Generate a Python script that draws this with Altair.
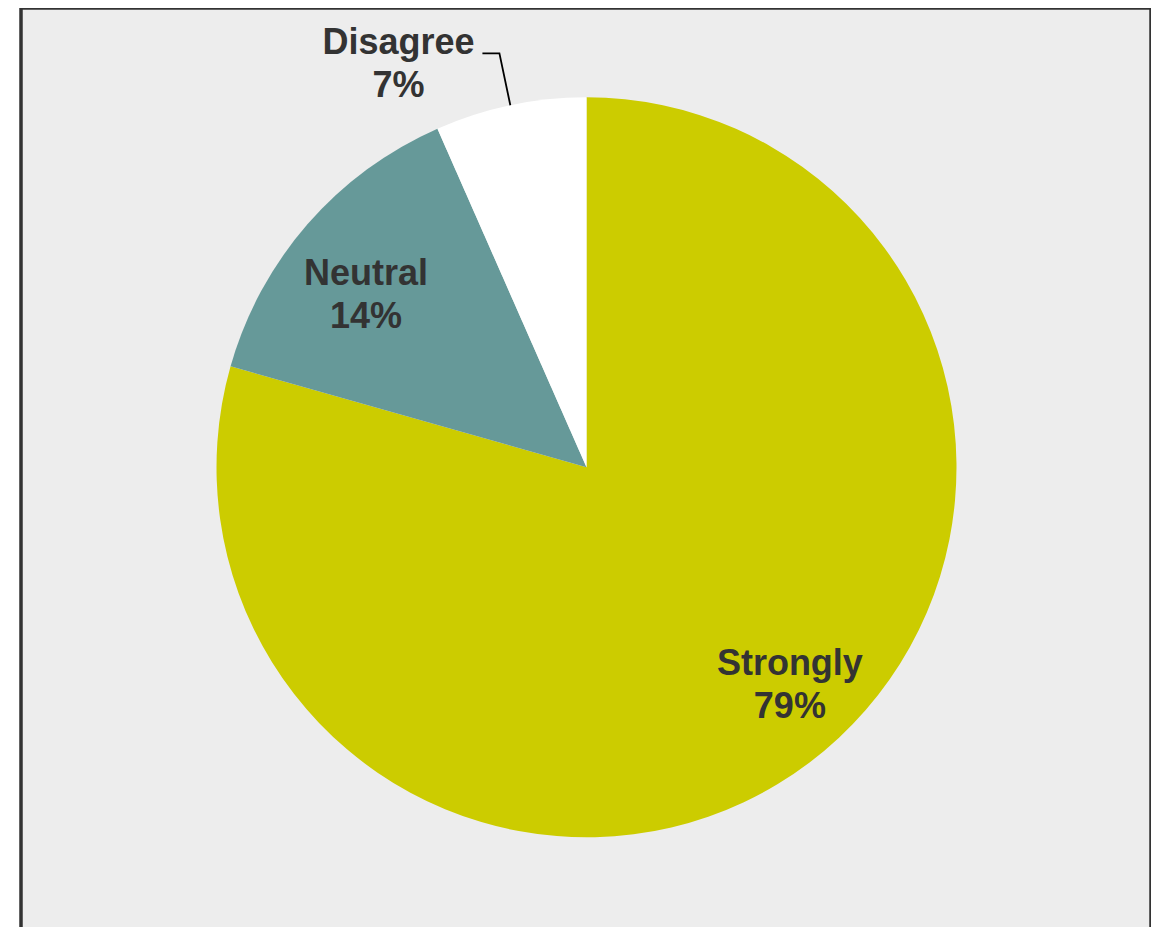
import altair as alt
import numpy as np
import pandas as pd

# Data
categories = ["Strongly", "Neutral", "Disagree"]
values = [79.4, 14.0, 6.6]
labels = ["Strongly\n79%", "Neutral\n14%", "Disagree\n7%"]
colors = ["#CCCC00", "#669999", "#FFFFFF"]

df = pd.DataFrame({
    "category": categories,
    "value": values,
    "label": labels,
    "order": list(range(len(categories))),
})

# Layout (pixel styling)
W, H = 1130, 960
CX, CY, R = 565.5, 459.3, 370
FONT = "Liberation Sans"
TXT = "#333333"

base = alt.Chart(df).encode(
    theta=alt.Theta("value:Q", stack=True),
    order=alt.Order("order:Q"),
    x=alt.value(CX),
    y=alt.value(CY),
)

pie = base.mark_arc(outerRadius=R).encode(
    color=alt.Color("category:N",
                    scale=alt.Scale(domain=categories, range=colors),
                    legend=None)
)


def label_layer(cat, radius, dx, dy):
    return base.mark_text(
        radius=radius, dx=dx, dy=dy, fontSize=36, fontWeight="bold",
        font=FONT, color=TXT, lineBreak="\n", lineHeight=43,
        align="center", baseline="middle",
    ).encode(
        text=alt.condition(f"datum.category == '{cat}'", "label:N", alt.value(""))
    )


t_strong = label_layer("Strongly", 300, 22.5, -42.5)
t_neutral = label_layer("Neutral", 280, -9.3, -9.5)
t_dis = label_layer("Disagree", 413, -103, -20.5)

# Leader line for the small slice, derived from its mid angle
cum = np.cumsum(values)
total = cum[-1]
mid = (cum[2] - values[2] / 2) / total * 2 * np.pi
r1, r2, hook = 370, 423, 17
sx, cy_ = np.sin(mid), np.cos(mid)
leader_df = pd.DataFrame({
    "step": [0, 1, 2],
    "x": [CX + r1 * sx, CX + r2 * sx, CX + r2 * sx - hook],
    "y": [CY - r1 * cy_, CY - r2 * cy_, CY - r2 * cy_],
})
leader = alt.Chart(leader_df).mark_line(color="black", strokeWidth=1.8).encode(
    x=alt.X("x:Q", scale=None, axis=None),
    y=alt.Y("y:Q", scale=None, axis=None),
    order=alt.Order("step:Q"),
)

chart = alt.layer(pie, t_strong, t_neutral, t_dis, leader).properties(
    width=W,
    height=H,
    autosize="none",
    padding={"left": 13, "top": 0, "right": 0, "bottom": -41},
    background="white",
).configure_view(
    fill="#EDEDED", stroke="#333333", strokeWidth=3.5
)

chart.save("out.html", embed_options={"renderer": "svg", "actions": False})
